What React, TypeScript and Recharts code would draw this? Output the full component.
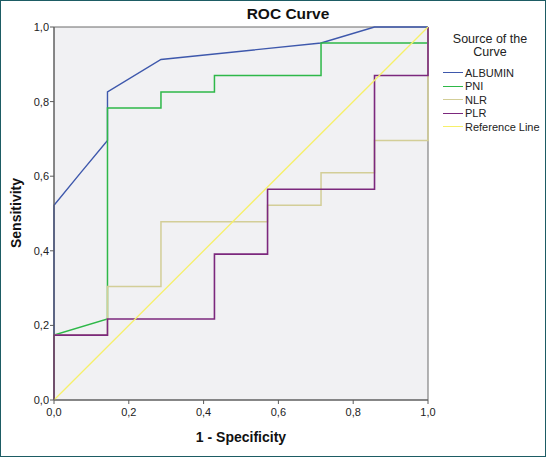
import { LineChart, Line, XAxis, YAxis, ReferenceArea } from "recharts";

// 1 - specificity / sensitivity pairs per curve
const albuminFpr = [0, 0, 0.071, 0.143, 0.143, 0.286, 0.714, 0.857, 1];
const albuminTpr = [0, 0.522, 0.609, 0.696, 0.826, 0.913, 0.957, 1, 1];

const pniFpr = [0, 0, 0.143, 0.143, 0.286, 0.286, 0.429, 0.429, 0.714, 0.714, 1, 1];
const pniTpr = [0, 0.174, 0.217, 0.783, 0.783, 0.826, 0.826, 0.87, 0.87, 0.957, 0.957, 1];

const nlrFpr = [0, 0, 0.143, 0.143, 0.286, 0.286, 0.571, 0.571, 0.714, 0.714, 0.857, 0.857, 1, 1];
const nlrTpr = [0, 0.174, 0.174, 0.304, 0.304, 0.478, 0.478, 0.522, 0.522, 0.609, 0.609, 0.696, 0.696, 1];

const plrFpr = [0, 0, 0.143, 0.143, 0.429, 0.429, 0.571, 0.571, 0.857, 0.857, 1, 1];
const plrTpr = [0, 0.174, 0.174, 0.217, 0.217, 0.391, 0.391, 0.565, 0.565, 0.87, 0.87, 1];

const refFpr = [0, 1];
const refTpr = [0, 1];

const ticks = [0, 0.2, 0.4, 0.6, 0.8, 1];

const toPoints = (xs: number[], ys: number[]) => xs.map((x, i) => ({ x, y: ys[i] }));

const series = [
  { name: "ALBUMIN", color: "#3e58ac", data: toPoints(albuminFpr, albuminTpr), width: 1.4 },
  { name: "PNI", color: "#2eb848", data: toPoints(pniFpr, pniTpr), width: 1.5 },
  { name: "NLR", color: "#d3ce97", data: toPoints(nlrFpr, nlrTpr), width: 1.5 },
  { name: "PLR", color: "#7c287d", data: toPoints(plrFpr, plrTpr), width: 1.6 },
  { name: "Reference Line", color: "#f6f06a", data: toPoints(refFpr, refTpr), width: 1.3 },
];

const font = "'Liberation Sans', Arial, sans-serif";
const fmt = (v: number) => v.toFixed(1).replace(".", ",");

export default function App() {
  return (
    <div
      style={{
        position: "absolute",
        left: 0,
        top: 0,
        width: 546,
        height: 457,
        background: "#fff",
        boxShadow: "inset 0 0 0 1px #1d5c64",
        fontFamily: font,
      }}
    >
      <LineChart
        width={546}
        height={457}
        margin={{ top: 27, right: 118, bottom: 27, left: 14 }}
      >
        <XAxis
          dataKey="x"
          type="number"
          domain={[0, 1]}
          ticks={ticks}
          tickFormatter={fmt}
          allowDuplicatedCategory={false}
          height={30}
          tickSize={4}
          tickMargin={4}
          stroke="#5a5a5a"
          tick={{ fill: "#222", fontSize: 11, fontFamily: font }}
        />
        <YAxis
          dataKey="y"
          type="number"
          domain={[0, 1]}
          ticks={ticks}
          tickFormatter={fmt}
          width={40}
          tickSize={4}
          tickMargin={1}
          stroke="#5a5a5a"
          tick={{ fill: "#222", fontSize: 11, fontFamily: font }}
        />
        <ReferenceArea
          x1={0}
          x2={1}
          y1={0}
          y2={1}
          fill="#f1f1f3"
          fillOpacity={1}
          stroke="#6a6a6a"
          strokeWidth={1}
        />
        {series.map((s) => (
          <Line
            key={s.name}
            data={s.data}
            dataKey="y"
            name={s.name}
            type="linear"
            stroke={s.color}
            strokeWidth={s.width}
            dot={false}
            activeDot={false}
            isAnimationActive={false}
          />
        ))}
      </LineChart>

      <div
        style={{
          position: "absolute",
          left: 200,
          width: 176,
          top: 5,
          textAlign: "center",
          fontWeight: "bold",
          fontSize: 15.5,
          color: "#111",
        }}
      >
        ROC Curve
      </div>
      <div
        style={{
          position: "absolute",
          left: 0,
          width: 32,
          top: 213,
          height: 0,
        }}
      >
        <div
          style={{
            position: "absolute",
            left: 16,
            top: 0,
            transform: "translate(-50%, -50%) rotate(-90deg)",
            fontWeight: "bold",
            fontSize: 14,
            color: "#111",
            whiteSpace: "nowrap",
          }}
        >
          Sensitivity
        </div>
      </div>
      <div
        style={{
          position: "absolute",
          left: 141,
          width: 200,
          top: 429,
          textAlign: "center",
          fontWeight: "bold",
          fontSize: 14,
          color: "#111",
        }}
      >
        1 - Specificity
      </div>

      <div
        style={{
          position: "absolute",
          left: 436,
          width: 108,
          top: 33,
          textAlign: "center",
          fontSize: 12.5,
          lineHeight: "13px",
          color: "#222",
        }}
      >
        Source of the
        <br />
        Curve
      </div>
      <div style={{ position: "absolute", left: 443, top: 66 }}>
        {series.map((s) => (
          <div
            key={s.name}
            style={{ display: "flex", alignItems: "center", height: 13.5, fontSize: 11, color: "#222" }}
          >
            <span
              style={{ display: "inline-block", width: 20, height: 0, borderTop: `1.5px solid ${s.color}`, marginRight: 2 }}
            />
            <span>{s.name}</span>
          </div>
        ))}
      </div>
    </div>
  );
}
